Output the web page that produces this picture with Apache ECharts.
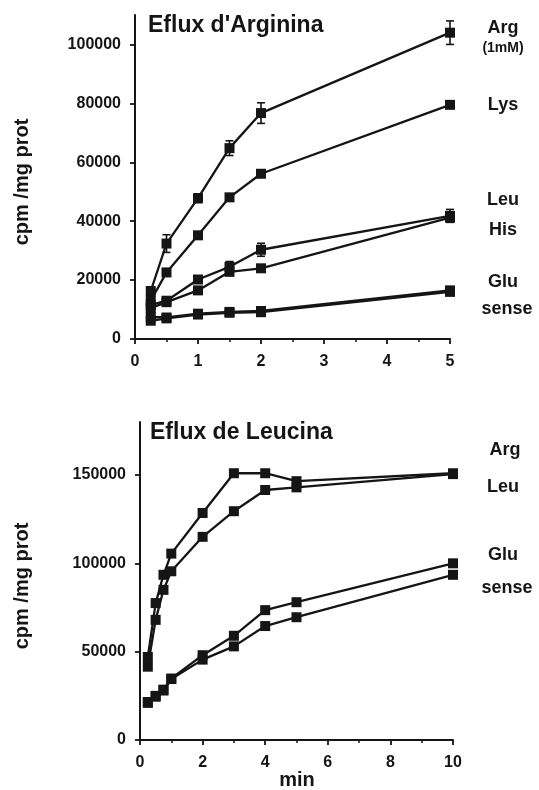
<!DOCTYPE html>
<html>
<head>
<meta charset="utf-8">
<script src="https://cdn.jsdelivr.net/npm/echarts@6/dist/echarts.min.js"></script>
<style>
html,body{margin:0;padding:0;background:#fff;}
#c{width:539px;height:790px;}
</style>
</head>
<body>
<div id="c"></div>
<script>
// ---- Panel 1: Eflux d'Arginina ----
var times1 = [0.25, 0.5, 1, 1.5, 2, 5];
var arg1   = [16300, 32400, 47800, 64800, 76700, 104000];
var lys1   = [13000, 22600, 35200, 48100, 56100, 79500];
var leu1   = [11500, 13000, 20200, 24500, 30300, 41800];
var his1   = [10500, 12500, 16500, 22800, 24000, 41200];
var glu1   = [7500, 7300, 8600, 9200, 9500, 16500];
var sense1 = [6200, 7000, 8300, 8900, 9100, 16000];
var argErr1 = [0, 3000, 1500, 2500, 3500, 4000];
var leuErr1 = [0, 0, 0, 1800, 2200, 2200];
var yTicks1 = [0, 20000, 40000, 60000, 80000, 100000];
var xTicks1 = [0, 1, 2, 3, 4, 5];
var title1 = "Eflux d'Arginina";
var labels1 = ['Arg', '(1mM)', 'Lys', 'Leu', 'His', 'Glu', 'sense'];

// ---- Panel 2: Eflux de Leucina ----
var times2 = [0.25, 0.5, 0.75, 1, 2, 3, 4, 5, 10];
var arg2   = [47000, 77500, 93500, 105500, 128500, 151000, 151000, 146500, 151000];
var leu2   = [41500, 68000, 85000, 95500, 115000, 129500, 141500, 143000, 150500];
var glu2   = [21500, 25000, 28500, 34800, 48000, 59000, 73500, 78000, 100000];
var sense2 = [21000, 24500, 28000, 34500, 45500, 53000, 64500, 69500, 93500];
var yTicks2 = [0, 50000, 100000, 150000];
var xTicks2 = [0, 2, 4, 6, 8, 10];
var title2 = 'Eflux de Leucina';
var labels2 = ['Arg', 'Leu', 'Glu', 'sense'];

var yName = 'cpm /mg prot';
var xName = 'min';

var INK = '#151515';
var FONT = 'Liberation Sans, Arial, Helvetica, sans-serif';

function pairs(xs, ys) { return xs.map(function (x, i) { return [x, ys[i]]; }); }

function lineSeries(name, xs, ys, idx) {
  return {
    name: name, type: 'line', xAxisIndex: idx, yAxisIndex: idx,
    data: pairs(xs, ys), symbol: 'rect', symbolSize: 10, showSymbol: true,
    lineStyle: { color: INK, width: 2.3 }, itemStyle: { color: INK },
    animation: false, z: 3
  };
}

function errSeries(xs, ys, es, idx) {
  var d = [];
  xs.forEach(function (x, i) { if (es[i] > 0) d.push([x, ys[i], es[i]]); });
  return {
    type: 'custom', xAxisIndex: idx, yAxisIndex: idx, data: d, animation: false, z: 4,
    renderItem: function (params, api) {
      var x = api.value(0), y = api.value(1), e = api.value(2);
      var top = api.coord([x, y + e]);
      var bot = api.coord([x, y - e]);
      var w = 4;
      var st = { stroke: INK, lineWidth: 1.6 };
      return {
        type: 'group',
        children: [
          { type: 'line', shape: { x1: top[0], y1: top[1], x2: bot[0], y2: bot[1] }, style: st },
          { type: 'line', shape: { x1: top[0] - w, y1: top[1], x2: top[0] + w, y2: top[1] }, style: st },
          { type: 'line', shape: { x1: bot[0] - w, y1: bot[1], x2: bot[0] + w, y2: bot[1] }, style: st }
        ]
      };
    }
  };
}

function xAxis(idx, max, interval, ticks) {
  return {
    type: 'value', gridIndex: idx, min: 0, max: max, interval: interval,
    axisLine: { show: true, onZero: false, lineStyle: { color: INK, width: 2 } },
    axisTick: { show: true, length: 5, lineStyle: { color: INK, width: 1.8 }, customValues: ticks },
    minorTick: { show: true, splitNumber: 2, length: 3, lineStyle: { color: INK, width: 1.5 } },
    axisLabel: { color: INK, fontFamily: FONT, fontWeight: 'bold', fontSize: 16, margin: 15,
      customValues: ticks, formatter: function (v) { return String(v); } },
    splitLine: { show: false }
  };
}
function yAxis(idx, max, ticks) {
  return {
    type: 'value', gridIndex: idx, min: 0, max: max,
    axisLine: { show: true, onZero: false, lineStyle: { color: INK, width: 2 } },
    axisTick: { show: true, length: 5, lineStyle: { color: INK, width: 1.8 }, customValues: ticks },
    axisLabel: { color: INK, fontFamily: FONT, fontWeight: 'bold', fontSize: 16, margin: 14,
      customValues: ticks, formatter: function (v) { return String(v); } },
    splitLine: { show: false }
  };
}

function txt(s, x, y, size, align) {
  return { type: 'text', x: x, y: y, style: { text: s, fill: INK, font: 'bold ' + size + 'px ' + FONT,
    textAlign: align || 'center', textVerticalAlign: 'middle' }, z: 10 };
}

var chart = echarts.init(document.getElementById('c'), null, { renderer: 'canvas' });
var option = {
  backgroundColor: '#fff',
  animation: false,
  grid: [
    { left: 135, right: 89, top: 15, bottom: 451 },
    { left: 140, right: 86, top: 422, bottom: 50 }
  ],
  xAxis: [xAxis(0, 5, 1, xTicks1), xAxis(1, 10, 2, xTicks2)],
  yAxis: [yAxis(0, 110000, yTicks1), yAxis(1, 180000, yTicks2)],
  series: [
    lineSeries('Arg', times1, arg1, 0),
    lineSeries('Lys', times1, lys1, 0),
    lineSeries('Leu', times1, leu1, 0),
    lineSeries('His', times1, his1, 0),
    lineSeries('Glu', times1, glu1, 0),
    lineSeries('sense', times1, sense1, 0),
    errSeries(times1, arg1, argErr1, 0),
    errSeries(times1, leu1, leuErr1, 0),
    lineSeries('Arg', times2, arg2, 1),
    lineSeries('Leu', times2, leu2, 1),
    lineSeries('Glu', times2, glu2, 1),
    lineSeries('sense', times2, sense2, 1)
  ],
  graphic: [
    txt(title1, 148, 26, 23, 'left'),
    txt(title2, 150, 433, 23, 'left'),
    txt(labels1[0], 503, 28, 18),
    txt(labels1[1], 503, 48, 14),
    txt(labels1[2], 503, 105, 18),
    txt(labels1[3], 503, 200, 18),
    txt(labels1[4], 503, 230, 18),
    txt(labels1[5], 503, 282, 18),
    txt(labels1[6], 507, 309, 18),
    txt(labels2[0], 505, 450, 18),
    txt(labels2[1], 503, 487, 18),
    txt(labels2[2], 503, 555, 18),
    txt(labels2[3], 507, 588, 18),
    { type: 'text', x: 22, y: 182, rotation: Math.PI / 2,
      style: { text: yName, fill: INK, font: 'bold 20px ' + FONT, textAlign: 'center', textVerticalAlign: 'middle' } },
    { type: 'text', x: 22, y: 586, rotation: Math.PI / 2,
      style: { text: yName, fill: INK, font: 'bold 20px ' + FONT, textAlign: 'center', textVerticalAlign: 'middle' } },
    txt(xName, 297, 780, 20)
  ]
};
chart.setOption(option);
</script>
</body>
</html>
